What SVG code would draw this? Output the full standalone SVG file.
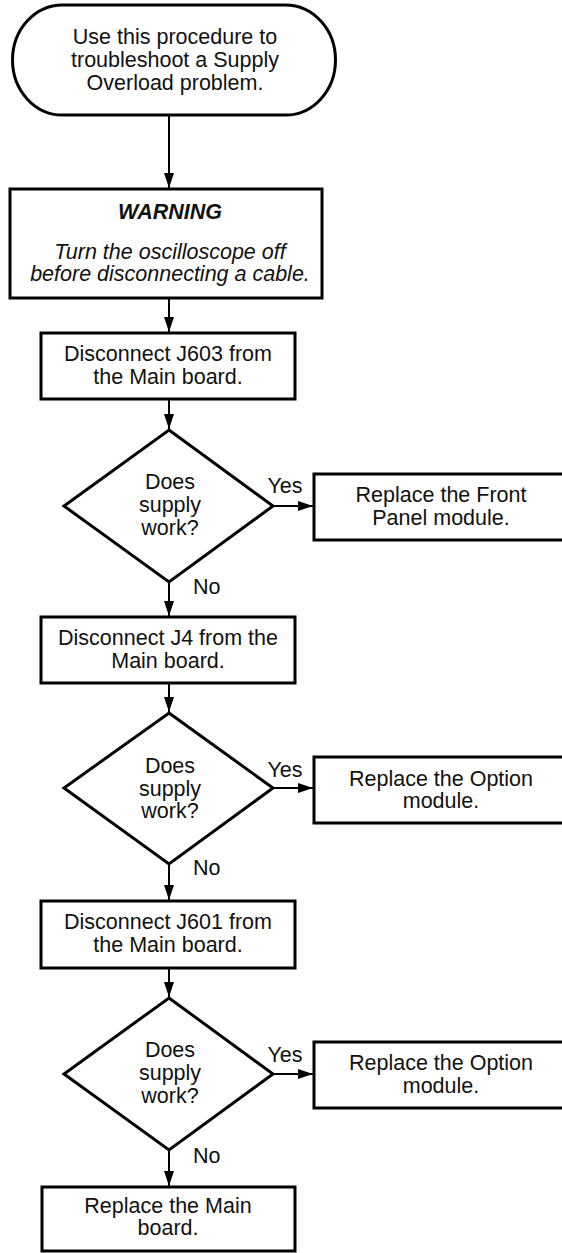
<svg xmlns="http://www.w3.org/2000/svg" width="562" height="1253" viewBox="0 0 562 1253">
<style>
.shape{fill:#fff;stroke:#000;stroke-width:3}
.conn{fill:none;stroke:#000;stroke-width:2;marker-end:url(#ah)}
text{font-family:"Liberation Sans",Arial,Helvetica,sans-serif;font-size:21.5px;fill:#111}
.c{text-anchor:middle}
.it{font-style:italic}
.bi{font-style:italic;font-weight:bold}
</style>
<defs>
<marker id="ah" markerUnits="userSpaceOnUse" markerWidth="16" markerHeight="11" refX="15" refY="5" orient="auto">
<path d="M0,0 L15,5 L0,10 z" fill="#000"/>
</marker>
</defs>
<rect width="562" height="1253" fill="#fff"/>
<g id="connectors">
<line class="conn" x1="169" y1="115" x2="169" y2="188"/>
<line class="conn" x1="169" y1="298" x2="169" y2="332"/>
<line class="conn" x1="169" y1="399" x2="169" y2="429"/>
<line class="conn" x1="169" y1="582" x2="169" y2="616"/>
<line class="conn" x1="169" y1="683" x2="169" y2="712"/>
<line class="conn" x1="169" y1="864" x2="169" y2="900"/>
<line class="conn" x1="169" y1="968" x2="169" y2="997"/>
<line class="conn" x1="169" y1="1150" x2="169" y2="1186"/>
<line class="conn" x1="273" y1="506" x2="313" y2="506"/>
<line class="conn" x1="273" y1="788" x2="313" y2="788"/>
<line class="conn" x1="273" y1="1074" x2="313" y2="1074"/>
<text x="193" y="594">No</text>
<text x="193" y="875">No</text>
<text x="193" y="1163">No</text>
<text class="c" x="285" y="493">Yes</text>
<text class="c" x="285" y="777">Yes</text>
<text class="c" x="285" y="1062">Yes</text>
</g>
<g id="start">
<rect class="shape" x="12.5" y="5" width="323" height="110" rx="50" ry="55"/>
<text class="c" x="175" y="44">Use this procedure to</text>
<text class="c" x="175" y="67">troubleshoot a Supply</text>
<text class="c" x="175" y="90">Overload problem.</text>
</g>
<g id="warning">
<rect class="shape" x="10" y="189" width="312" height="109"/>
<text class="c bi" x="170" y="219">WARNING</text>
<text class="c it" x="170" y="259">Turn the oscilloscope off</text>
<text class="c it" x="170" y="281">before disconnecting a cable.</text>
</g>
<g id="disconnect-j603">
<rect class="shape" x="41" y="333" width="254" height="66"/>
<text class="c" x="168" y="361">Disconnect J603 from</text>
<text class="c" x="168" y="384">the Main board.</text>
</g>
<g id="decision-1">
<polygon class="shape" points="169,430 273,506 169,582 64,506"/>
<text class="c" x="170" y="489">Does</text>
<text class="c" x="170" y="512">supply</text>
<text class="c" x="170" y="535">work?</text>
</g>
<g id="replace-front-panel">
<rect class="shape" x="314" y="474" width="260" height="66"/>
<text class="c" x="441" y="502">Replace the Front</text>
<text class="c" x="441" y="525">Panel module.</text>
</g>
<g id="disconnect-j4">
<rect class="shape" x="41" y="617" width="254" height="66"/>
<text class="c" x="168" y="645">Disconnect J4 from the</text>
<text class="c" x="168" y="668">Main board.</text>
</g>
<g id="decision-2">
<polygon class="shape" points="169,713 273,788 169,864 64,788"/>
<text class="c" x="170" y="773">Does</text>
<text class="c" x="170" y="796">supply</text>
<text class="c" x="170" y="818">work?</text>
</g>
<g id="replace-option-1">
<rect class="shape" x="314" y="757" width="260" height="66"/>
<text class="c" x="441" y="786">Replace the Option</text>
<text class="c" x="441" y="808">module.</text>
</g>
<g id="disconnect-j601">
<rect class="shape" x="41" y="901" width="254" height="67"/>
<text class="c" x="168" y="929">Disconnect J601 from</text>
<text class="c" x="168" y="952">the Main board.</text>
</g>
<g id="decision-3">
<polygon class="shape" points="169,998 273,1074 169,1150 64,1074"/>
<text class="c" x="170" y="1057">Does</text>
<text class="c" x="170" y="1080">supply</text>
<text class="c" x="170" y="1103">work?</text>
</g>
<g id="replace-option-2">
<rect class="shape" x="314" y="1042" width="260" height="66"/>
<text class="c" x="441" y="1070">Replace the Option</text>
<text class="c" x="441" y="1093">module.</text>
</g>
<g id="replace-main">
<rect class="shape" x="42" y="1187" width="253" height="64"/>
<text class="c" x="168" y="1213">Replace the Main</text>
<text class="c" x="168" y="1235">board.</text>
</g>
</svg>
